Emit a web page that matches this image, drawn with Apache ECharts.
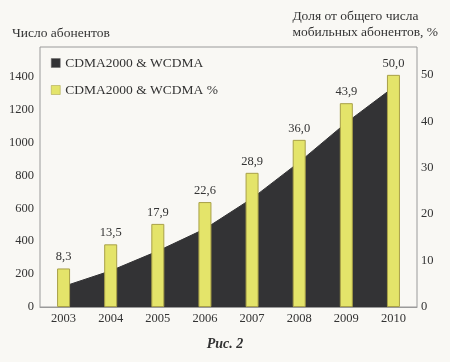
<!DOCTYPE html>
<html>
<head>
<meta charset="utf-8">
<script src="https://cdn.jsdelivr.net/npm/echarts@6/dist/echarts.min.js"></script>
<style>
html,body{margin:0;padding:0;background:#f9f8f4;}
#c{width:450px;height:362px;}
</style>
</head>
<body>
<div id="c"></div>
<script>
const years = ['2003','2004','2005','2006','2007','2008','2009','2010'];
const subscribers = [125, 220, 340, 475, 660, 880, 1120, 1335];
const sharePercent = [8.3, 13.5, 17.9, 22.6, 28.9, 36.0, 43.9, 50.0];
const leftTicks = [0, 200, 400, 600, 800, 1000, 1200, 1400];
const rightTicks = [0, 10, 20, 30, 40, 50];

const serif = '"Liberation Serif", "DejaVu Serif", serif';
const chart = echarts.init(document.getElementById('c'));
chart.setOption({
  backgroundColor: '#f9f8f4',
  animation: false,
  textStyle: {fontFamily: serif, color: '#333'},
  grid: {left: 40, right: 33, top: 47, bottom: 55, show: true, borderColor: '#9a9a9a', borderWidth: 1, backgroundColor: 'transparent'},
  legend: {
    orient: 'vertical', left: 46, top: 51, itemGap: 13,
    itemWidth: 9, itemHeight: 9, icon: 'rect',
    textStyle: {fontFamily: serif, fontSize: 13.5, color: '#333'},
    data: [
      {name: 'CDMA2000 & WCDMA', itemStyle: {color: '#333335', borderColor: '#666', borderWidth: 0.5}},
      {name: 'CDMA2000 & WCDMA %', itemStyle: {color: '#e4e46a', borderColor: '#a09a40', borderWidth: 0.5}}
    ]
  },
  graphic: [
    {type: 'text', left: 12, top: 26, style: {text: 'Число абонентов', font: '13.5px ' + serif, fill: '#333'}},
    {type: 'text', right: 12, top: 8, style: {text: 'Доля от общего числа\nмобильных абонентов, %', font: '13.5px ' + serif, fill: '#333', align: 'left', lineHeight: 16}},
    {type: 'text', left: 'center', top: 337, style: {text: 'Рис. 2', font: 'italic bold 14px ' + serif, fill: '#333'}}
  ],
  xAxis: {
    type: 'category', data: years,
    axisLine: {show: true, lineStyle: {color: '#9a9a9a'}},
    axisTick: {show: false},
    axisLabel: {fontFamily: serif, fontSize: 12.5, color: '#333', margin: 5}
  },
  yAxis: [
    {
      type: 'value', min: 0, max: 1580, interval: 200,
      axisLine: {show: false}, axisTick: {show: false}, splitLine: {show: false},
      axisLabel: {fontFamily: serif, fontSize: 12.5, color: '#333', margin: 6, showMaxLabel: false,
        formatter: v => leftTicks.includes(v) ? String(v) : ''}
    },
    {
      type: 'value', min: 0, max: 56, interval: 10, position: 'right',
      axisLine: {show: false}, axisTick: {show: false}, splitLine: {show: false},
      axisLabel: {fontFamily: serif, fontSize: 12.5, color: '#333', margin: 4, showMaxLabel: false,
        formatter: v => rightTicks.includes(v) ? String(v) : ''}
    }
  ],
  series: [
    {
      name: 'CDMA2000 & WCDMA', type: 'line', yAxisIndex: 0, data: subscribers,
      symbol: 'none', lineStyle: {color: '#333335', width: 1},
      areaStyle: {color: '#333335', opacity: 1}, z: 1
    },
    {
      name: 'CDMA2000 & WCDMA %', type: 'bar', yAxisIndex: 1, data: sharePercent,
      barWidth: 13,
      itemStyle: {color: '#e4e46a', borderColor: '#a8a048', borderWidth: 1},
      label: {show: true, position: 'top', distance: 5, fontFamily: serif, fontSize: 12.5, color: '#333',
        formatter: p => p.value.toFixed(1).replace('.', ',')},
      z: 3
    }
  ]
});
</script>
</body>
</html>
